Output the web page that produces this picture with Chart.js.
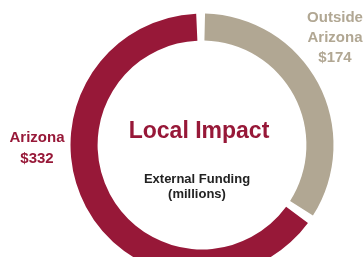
<!DOCTYPE html>
<html>
<head>
<meta charset="utf-8">
<script src="https://cdn.jsdelivr.net/npm/chart.js@4"></script>
<style>
  html, body { margin: 0; padding: 0; background: #fff; overflow: hidden; width: 363px; height: 257px; }
  #wrap { position: absolute; left: 0; top: 0; width: 363px; height: 300px; }
</style>
</head>
<body>
<div id="wrap"><canvas id="chart" width="363" height="300"></canvas></div>
<script>
const regions = ['Outside Arizona', 'Arizona'];
const funding = [174, 332];
const sliceColors = ['#b1a793', '#971838'];
const centerTitle = 'Local Impact';
const centerSub = ['External Funding', '(millions)'];

function labelLines(i) {
  const words = regions[i].split(' ');
  return words.concat('$' + funding[i]);
}

const labelPlugin = {
  id: 'labels',
  afterDraw(chart) {
    const ctx = chart.ctx;
    const arc = chart.getDatasetMeta(0).data[0];
    const cx = arc.x, cy = arc.y;
    ctx.save();
    ctx.textAlign = 'center';
    ctx.textBaseline = 'middle';
    // center text
    ctx.fillStyle = sliceColors[1];
    ctx.font = 'bold 23px "Liberation Sans", Arial, sans-serif';
    ctx.fillText(centerTitle, cx - 3, cy - 13);
    ctx.fillStyle = '#222222';
    ctx.font = 'bold 13px "Liberation Sans", Arial, sans-serif';
    centerSub.forEach((t, k) => ctx.fillText(t, cx - 5, cy + 34 + k * 15));
    // slice labels
    ctx.font = 'bold 15px "Liberation Sans", Arial, sans-serif';
    ctx.fillStyle = sliceColors[0];
    labelLines(0).forEach((t, k) => ctx.fillText(t, 335, 18 + k * 20));
    ctx.fillStyle = sliceColors[1];
    labelLines(1).forEach((t, k) => ctx.fillText(t, 37, 138 + k * 21));
    ctx.restore();
  }
};

new Chart(document.getElementById('chart'), {
  type: 'doughnut',
  data: {
    labels: regions,
    datasets: [{
      data: funding,
      backgroundColor: sliceColors,
      borderWidth: 0,
      spacing: 5
    }]
  },
  options: {
    responsive: false,
    animation: false,
    cutout: '79%',
    rotation: 0,
    layout: { padding: { left: 70.5, right: 29.5, top: 13.5, bottom: 23.5 } },
    plugins: { legend: { display: false }, tooltip: { enabled: false } }
  },
  plugins: [labelPlugin]
});
</script>
</body>
</html>
